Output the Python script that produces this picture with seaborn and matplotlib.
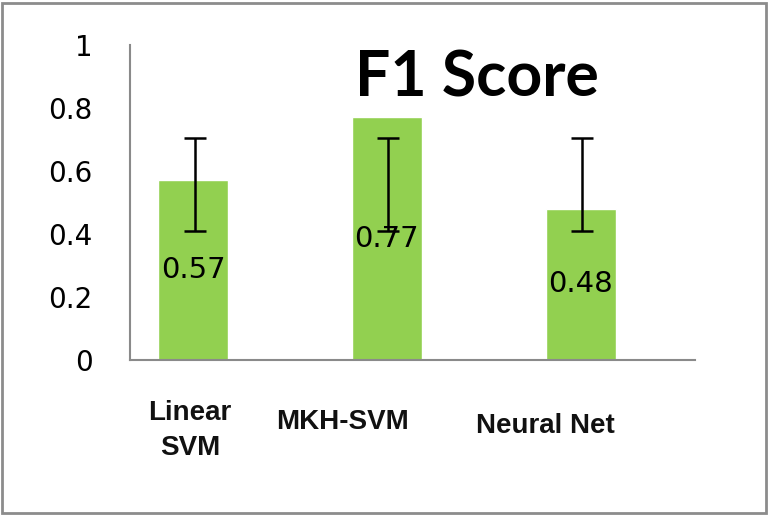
from matplotlib import pyplot as plt
from matplotlib.transforms import ScaledTranslation
import seaborn as sns

# F1 scores per model, with whisker ends
models = ['Linear SVM', 'MKH-SVM', 'Neural Net']
tick_labels = ['Linear\nSVM', 'MKH-SVM', 'Neural Net']
f1 = [0.57, 0.77, 0.48]
err_low = [0.41, 0.41, 0.41]
err_high = [0.705, 0.705, 0.705]
y_ticks = [0, 0.2, 0.4, 0.6, 0.8, 1]
y_tick_labels = ['0', '0.2', '0.4', '0.6', '0.8', '1']

sns.set_style('white')
plt.rcParams['font.family'] = ['DejaVu Sans']
fig = plt.figure(figsize=(7.68, 5.16), dpi=100)
ax = fig.add_axes([130 / 768, 1 - 360 / 516, 565 / 768, 315 / 516])

sns.barplot(x=models, y=f1, color='#92D050', saturation=1, width=0.36,
            errorbar=None, ax=ax)

# whiskers from err_low to err_high
mid = [(lo + hi) / 2 for lo, hi in zip(err_low, err_high)]
half = [(hi - lo) / 2 for lo, hi in zip(err_low, err_high)]
ax.errorbar([i + 0.008 for i in range(len(models))], mid, yerr=half, fmt='none',
            ecolor='black', elinewidth=1.8, capsize=8, capthick=1.8)

ax.bar_label(ax.containers[0], labels=[f'{v:.2f}' for v in f1],
             label_type='center', fontsize=21, color='black')

ax.set_xlim(-0.325, 2.59)
ax.set_ylim(0, 1)
ax.set_yticks(y_ticks)
ax.set_yticklabels(y_tick_labels, fontsize=20, color='black')
ax.set_xticks(range(len(models)))
ax.set_xticklabels(tick_labels, fontsize=20, family='Liberation Sans',
                   fontweight='bold', color='#111111', linespacing=1.45)
ax.tick_params(axis='y', length=0, pad=27)
ax.tick_params(axis='x', length=0, pad=29)

# category labels sit off-centre in the original
shifts = [(-3, 0), (-44, -9), (-35, -13)]
for lab, (dx, dy) in zip(ax.get_xticklabels(), shifts):
    lab.set_transform(lab.get_transform() + ScaledTranslation(dx / 100, dy / 100, fig.dpi_scale_trans))

for side in ['top', 'right']:
    ax.spines[side].set_visible(False)
for side in ['left', 'bottom']:
    ax.spines[side].set_color('#8a8a8a')
    ax.spines[side].set_linewidth(1.5)
ax.set_xlabel('')
ax.set_ylabel('')

ax.text(0.614, 0.895, 'F1 Score', transform=ax.transAxes, ha='center', va='center',
        fontsize=45, fontweight='bold', family='Lato', color='black')

fig.add_artist(plt.Rectangle((0.003, 0.005), 0.994, 0.99, transform=fig.transFigure,
                             fill=False, ec='#8c8c8c', lw=2))

fig.savefig('out.png', dpi=100)
